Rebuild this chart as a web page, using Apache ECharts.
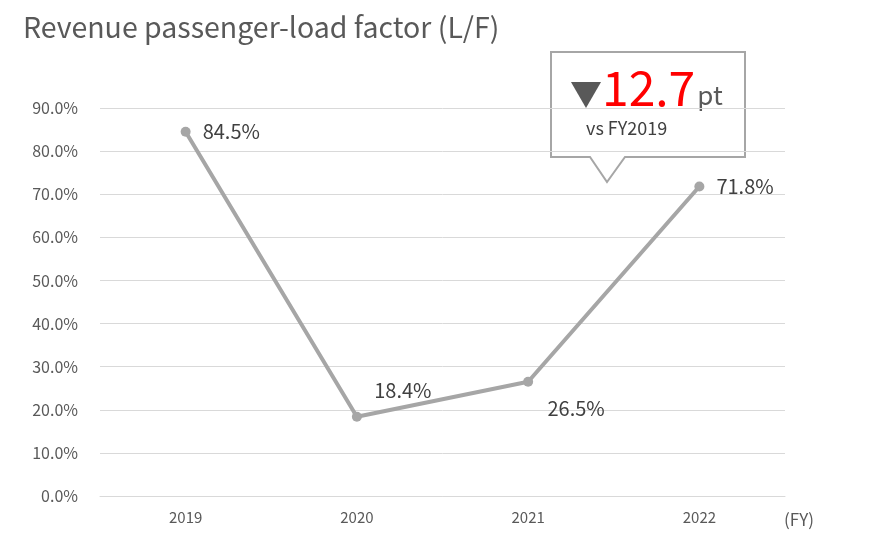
<!DOCTYPE html>
<html><head><meta charset="utf-8">
<script src="https://cdn.jsdelivr.net/npm/echarts@6/dist/echarts.min.js"></script>
<style>body{margin:0}#main{width:879px;height:542px}</style>
</head><body><div id="main"></div>
<script>
var years = ['2019', '2020', '2021', '2022'];
var loadFactor = [84.5, 18.4, 26.5, 71.8];
var labelPos = ['right', 'top', 'bottom', 'right'];
var font = '"Noto Sans CJK JP", "Noto Sans", sans-serif';

var chart = echarts.init(document.getElementById('main'));
chart.setOption({
  animation: false,
  textStyle: { fontFamily: font },
  title: {
    text: 'Revenue passenger-load factor (L/F)',
    left: 18, top: 8,
    textStyle: { fontFamily: font, fontSize: 28.5, fontWeight: 'normal', color: '#595959' }
  },
  grid: { left: 100, right: 94, top: 108, bottom: 46 },
  xAxis: {
    type: 'category', data: years,
    axisLine: { lineStyle: { color: '#d9d9d9' } },
    axisTick: { show: false },
    axisLabel: { color: '#595959', fontSize: 15, margin: 14 }
  },
  yAxis: {
    type: 'value', min: 0, max: 90, interval: 10,
    axisLine: { show: false }, axisTick: { show: false },
    splitLine: { lineStyle: { color: '#d9d9d9' } },
    axisLabel: { color: '#595959', fontSize: 16, margin: 22, formatter: function (v) { return v.toFixed(1) + '%'; } }
  },
  series: [{
    type: 'line',
    data: loadFactor.map(function (v, i) {
      var p = labelPos[i];
      return { value: v, label: { position: p, offset: p === 'top' ? [46, -3] : p === 'bottom' ? [48, 4] : [4, 0] } };
    }),
    symbol: 'circle', symbolSize: 10,
    lineStyle: { color: '#a6a6a6', width: 4 },
    itemStyle: { color: '#a6a6a6' },
    label: { show: true, color: '#404040', fontSize: 20, distance: 8, formatter: function (p) { return p.value.toFixed(1) + '%'; } }
  }],
  graphic: [
    { type: 'polygon', shape: { points: [[551, 52], [745, 52], [745, 157], [625, 157], [607, 182], [590, 157], [551, 157]] },
      style: { fill: '#fff', stroke: '#a6a6a6', lineWidth: 2 } },
    { type: 'text', left: 570, top: 64, style: {
      text: '{a|▼}{b|12.7}{c|pt}', rich: {
        a: { fontSize: 32, fill: '#595959', fontFamily: font, verticalAlign: 'bottom', padding: [0, 0, 2, 0] },
        b: { fontSize: 48, fill: '#ff0000', fontFamily: font },
        c: { fontSize: 26, fill: '#595959', fontFamily: font, verticalAlign: 'bottom', padding: [0, 0, 4, 2] }
      } } },
    { type: 'text', left: 586, top: 119, style: { text: 'vs FY2019', fontSize: 18, fill: '#404040', fontFamily: font } },
    { type: 'text', left: 784, top: 511, style: { text: '(FY)', fontSize: 17, fill: '#595959', fontFamily: font } }
  ]
});
</script></body></html>
